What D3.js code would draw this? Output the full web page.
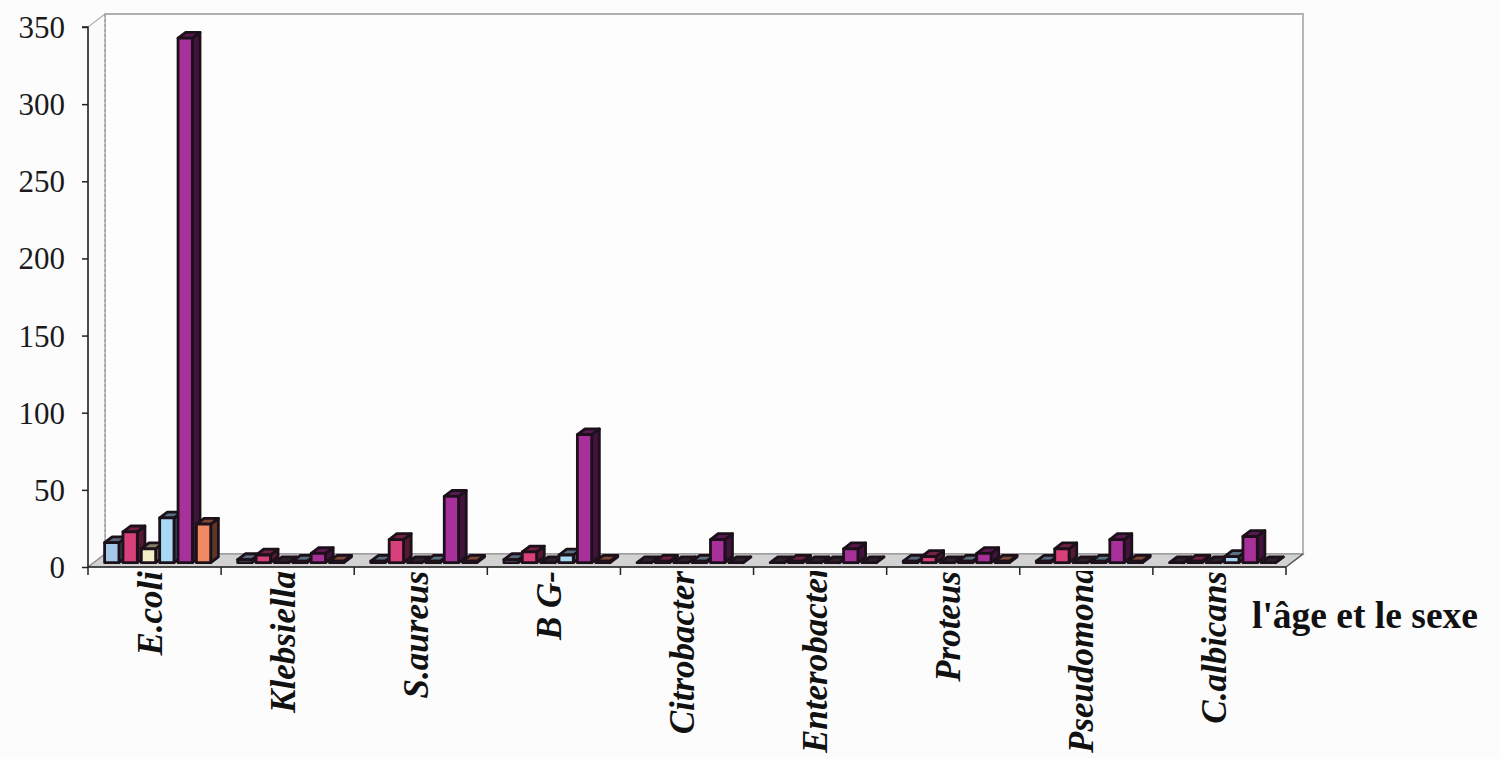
<!DOCTYPE html>
<html>
<head>
<meta charset="utf-8">
<script src="https://cdn.jsdelivr.net/npm/d3@7"></script>
<style>
  html, body { margin: 0; padding: 0; background: #fcfcfc; }
  svg { display: block; }
</style>
</head>
<body>
<svg id="chart" width="1500" height="759"></svg>
<script>
// ---- data ----
const categories = ["E.coli", "Klebsiella", "S.aureus", "B G-", "Citrobacter", "Enterobacter", "Proteus", "Pseudomonas", "C.albicans"];
const seriesNames = ["Série 1", "Série 2", "Série 3", "Série 4", "Série 5", "Série 6"];
const seriesColors = ["#a6c8e8", "#d8407c", "#f6f0c6", "#a8d8f2", "#a8309a", "#f08a62"];
const series1 = [13, 2, 1, 2, 0, 0, 1, 1, 0];
const series2 = [20, 5, 15, 7, 1, 1, 4, 9, 1];
const series3 = [9, 0, 0, 0, 0, 0, 0, 0, 0];
const series4 = [29, 1, 1, 5, 1, 0, 1, 1, 4];
const series5 = [340, 6, 43, 83, 15, 9, 6, 15, 17];
const series6 = [25, 1, 1, 1, 0, 0, 1, 1, 0];
const seriesValues = [series1, series2, series3, series4, series5, series6];
const yTicks = [0, 50, 100, 150, 200, 250, 300, 350];
const axisTitle = "l'âge et le sexe";

// ---- layout ----
const svg = d3.select("#chart");
const front = { left: 88, right: 1286, bottom: 567, top: 27 };
const depth = { dx: 17, dy: -13 };
const f0 = 0.33, f1 = 0.78;

const x = d3.scaleBand().domain(categories).range([front.left, front.right]).padding(0);
const y = d3.scaleLinear().domain([0, 350]).range([front.bottom, front.top]);
const xs = d3.scaleBand().domain(seriesNames).range([11, x.bandwidth() - 16]).paddingInner(0.22).paddingOuter(0);

const y0 = y(0);
const topY = y(350);

// back wall
const bw = svg.append("g");
bw.append("polygon")
  .attr("points", [[front.left + depth.dx, y0 + depth.dy], [front.right + depth.dx, y0 + depth.dy],
                   [front.right + depth.dx, topY + depth.dy], [front.left + depth.dx, topY + depth.dy]].join(" "))
  .attr("fill", "#fdfdfd").attr("stroke", "#b0b0b0").attr("stroke-width", 1.8);
// left side wall
bw.append("polygon")
  .attr("points", [[front.left, y0], [front.left + depth.dx, y0 + depth.dy],
                   [front.left + depth.dx, topY + depth.dy], [front.left, topY]].join(" "))
  .attr("fill", "#fbfbfb").attr("stroke", "#b0b0b0").attr("stroke-width", 1.2);
bw.append("line")
  .attr("x1", front.left + depth.dx).attr("x2", front.left + depth.dx)
  .attr("y1", topY + depth.dy).attr("y2", y0 + depth.dy)
  .attr("stroke", "#9a9a9a").attr("stroke-width", 1.2).attr("stroke-dasharray", "3,2");

// floor
svg.append("polygon")
  .attr("points", [[front.left, y0], [front.right, y0], [front.right + depth.dx, y0 + depth.dy],
                   [front.left + depth.dx, y0 + depth.dy]].join(" "))
  .attr("fill", "#d2d2d2").attr("stroke", "#8c8c8c").attr("stroke-width", 1.2);

// bars
const barsG = svg.append("g");
const ox0 = f0 * depth.dx, oy0 = f0 * depth.dy;
const bdx = (f1 - f0) * depth.dx, bdy = (f1 - f0) * depth.dy;
categories.forEach((cat, ci) => {
  seriesNames.forEach((sn, si) => {
    const v = seriesValues[si][ci];
    const col = d3.color(seriesColors[si]);
    const xl = x(cat) + xs(sn) + ox0;
    const xr = xl + xs.bandwidth();
    const yb = y(0) + oy0;
    const yt = y(v) + oy0;
    const g = barsG.append("g").attr("stroke", "#1c101a").attr("stroke-width", 2.8).attr("stroke-linejoin", "round");
    // side face
    g.append("polygon")
      .attr("points", [[xr, yb], [xr + bdx, yb + bdy], [xr + bdx, yt + bdy], [xr, yt]].join(" "))
      .attr("fill", col.darker(2.6));
    // top face
    g.append("polygon")
      .attr("points", [[xl, yt], [xr, yt], [xr + bdx, yt + bdy], [xl + bdx, yt + bdy]].join(" "))
      .attr("fill", v > 0 ? col.darker(1.8) : "#2a2228");
    // front face
    if (v > 0) {
      g.append("rect")
        .attr("x", xl).attr("y", yt).attr("width", xr - xl).attr("height", yb - yt)
        .attr("fill", col.toString());
    }
  });
});

// y axis
const yAxis = d3.axisLeft(y).tickValues(yTicks).tickSize(6).tickPadding(17).tickFormat(d3.format("d"));
const ya = svg.append("g").attr("transform", `translate(${front.left},0)`).call(yAxis);
ya.select(".domain").attr("stroke", "#222").attr("stroke-width", 1.5).attr("d", `M-6,${topY}H0V${y0}`);
ya.selectAll(".tick line").attr("stroke", "#222").attr("stroke-width", 1.5);
ya.selectAll(".tick text").attr("font-family", "Liberation Serif, Times New Roman, serif")
  .attr("font-size", 31).attr("fill", "#1a1a1a").attr("dy", "0.34em");

// x axis line + ticks
const xa = svg.append("g");
xa.append("line").attr("x1", front.left).attr("x2", front.right).attr("y1", y0).attr("y2", y0)
  .attr("stroke", "#222").attr("stroke-width", 1.5);
const bounds = categories.map(c => x(c)).concat([front.right]);
xa.selectAll("line.tk").data(bounds).join("line").attr("class", "tk")
  .attr("x1", d => d).attr("x2", d => d).attr("y1", y0).attr("y2", y0 + 8)
  .attr("stroke", "#222").attr("stroke-width", 1.5);
// floor right edge
xa.append("line").attr("x1", front.right).attr("y1", y0).attr("x2", front.right + depth.dx).attr("y2", y0 + depth.dy)
  .attr("stroke", "#555").attr("stroke-width", 1.2);

// category labels
svg.append("clipPath").attr("id", "lblclip").append("rect")
  .attr("x", 0).attr("y", 571).attr("width", 1500).attr("height", 188);
const lg = svg.append("g").attr("clip-path", "url(#lblclip)");
const labelTop = 571, labelMaxBottom = 753;
categories.forEach(cat => {
  const cx = x(cat) + x.bandwidth() / 2 + 7;
  const t = lg.append("text")
    .attr("font-family", "Liberation Serif, Times New Roman, serif")
    .attr("font-size", 35).attr("font-style", "italic").attr("font-weight", "bold")
    .attr("fill", "#111").attr("text-anchor", "end")
    .text(cat);
  const len = t.node().getComputedTextLength();
  let endY = labelTop;
  if (labelTop + len > labelMaxBottom) endY = labelMaxBottom - len;
  t.attr("transform", `translate(${cx},${endY}) rotate(-90)`);
});

// axis title
svg.append("text")
  .attr("x", 1252).attr("y", 628)
  .attr("font-family", "Liberation Serif, Times New Roman, serif")
  .attr("font-size", 37.5).attr("font-weight", "bold").attr("fill", "#111")
  .text(axisTitle);
</script>
</body>
</html>
